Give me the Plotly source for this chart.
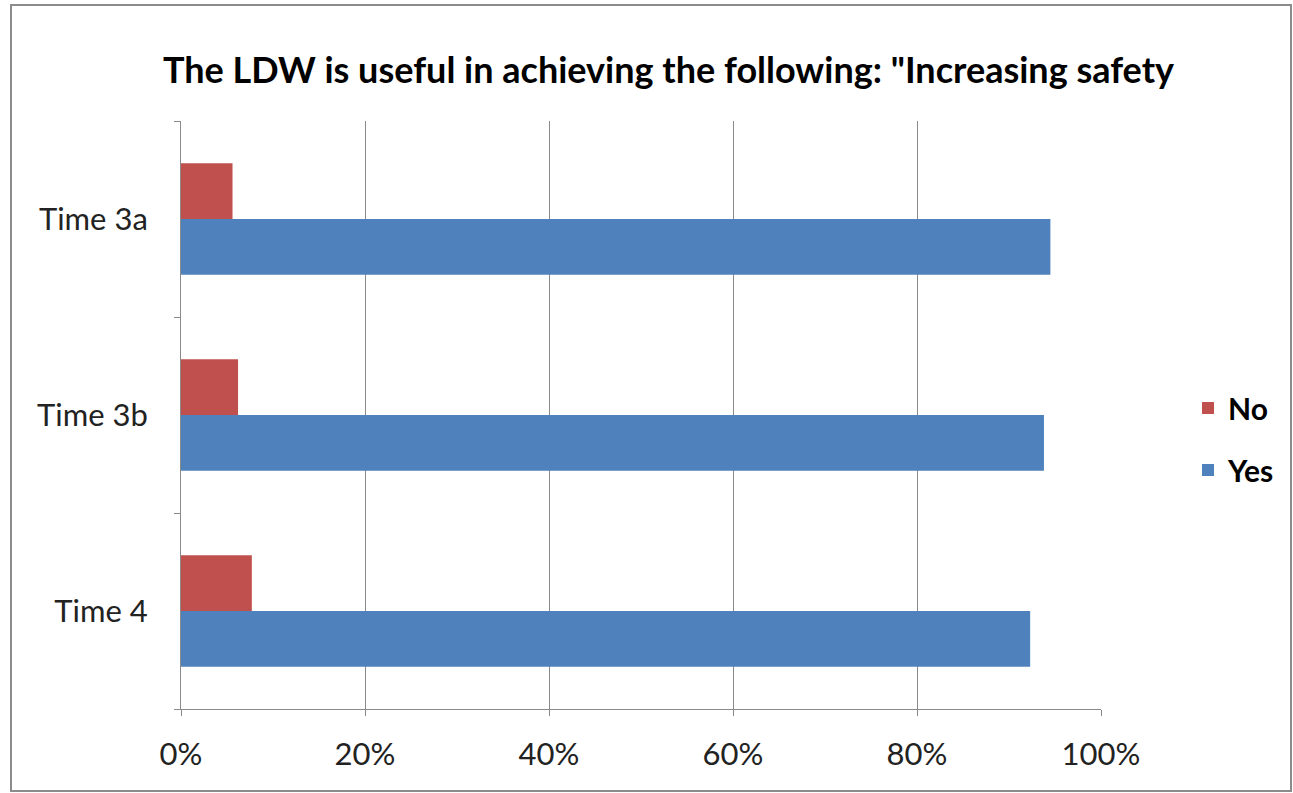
import plotly.graph_objects as go

categories = ["Time 4", "Time 3b", "Time 3a"]
yes_values = [0.923, 0.938, 0.945]
no_values = [0.077, 0.062, 0.056]
x_ticks = [0, 0.2, 0.4, 0.6, 0.8, 1.0]
x_tick_labels = ["0%", "20%", "40%", "60%", "80%", "100%"]
title_text = "The LDW is useful in achieving the following: \"Increasing safety"

W, H = 1293, 793
L, R, T, B = 181, 1101, 121, 709
font_family = "Lato, 'Open Sans', sans-serif"

fig = go.Figure()
fig.add_trace(go.Bar(y=categories, x=yes_values, name="Yes", orientation="h",
                     legendgroup="yes", legendrank=2,
                     marker=dict(color="#4F81BD", line=dict(width=0))))
fig.add_trace(go.Bar(y=categories, x=no_values, name="No", orientation="h",
                     legendgroup="no", legendrank=1,
                     marker=dict(color="#C0504D", line=dict(width=0))))

def px_to_paper_x(px):
    return (px - L) / (R - L)

def px_to_paper_y(py):
    return (B - py) / (B - T)

fig.add_shape(type="rect", xref="paper", yref="paper",
              x0=px_to_paper_x(11), x1=px_to_paper_x(1291),
              y0=px_to_paper_y(791), y1=px_to_paper_y(5),
              line=dict(color="#8c8c8c", width=2), fillcolor="rgba(0,0,0,0)", layer="below")

fig.update_layout(
    width=W, height=H,
    margin=dict(l=L, r=W - R, t=T, b=H - B, autoexpand=False),
    paper_bgcolor="white", plot_bgcolor="white",
    barmode="group", bargap=0.43, bargroupgap=0,
    title=dict(text=title_text, x=(165 + 1172) / 2 / W, xanchor="center",
               y=1 - 70 / H, yanchor="middle",
               font=dict(family=font_family, size=36, color="black", weight="bold")),
    legend=dict(traceorder="grouped", x=px_to_paper_x(1188), y=px_to_paper_y(439),
                yanchor="middle", xanchor="left",
                font=dict(family=font_family, size=30, color="black", weight="bold"),
                itemwidth=30, tracegroupgap=20, bgcolor="rgba(0,0,0,0)"),
    xaxis=dict(range=[0, 1], tickvals=x_ticks, ticktext=x_tick_labels,
               showgrid=True, gridcolor="#8a8a8a", gridwidth=1,
               showline=True, linecolor="#8a8a8a", linewidth=1,
               zeroline=False, ticks="outside", ticklen=6, tickcolor="#8a8a8a",
               ticklabelstandoff=12,
               tickfont=dict(family=font_family, size=31, color="#222222"),
               fixedrange=True),
    yaxis=dict(showline=True, linecolor="#8a8a8a", linewidth=1,
               ticks="outside", ticklen=6, tickcolor="#8a8a8a", tickson="boundaries",
               showgrid=False, ticklabelstandoff=26,
               tickfont=dict(family=font_family, size=31, color="#222222")),
    showlegend=True,
)

fig.write_html("out.html")
